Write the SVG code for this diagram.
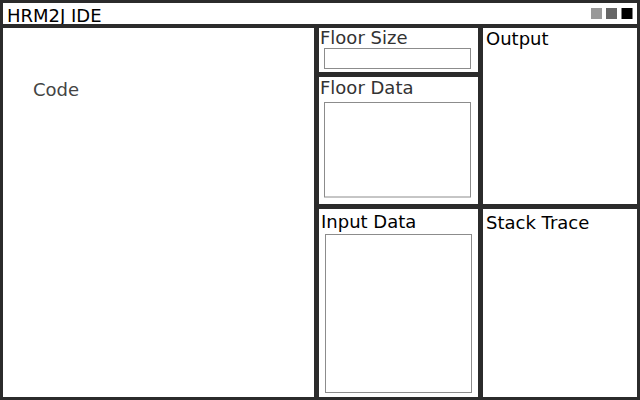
<svg xmlns="http://www.w3.org/2000/svg" width="640" height="400" viewBox="0 0 640 400">
  <style>
    .frame { fill: #ffffff; stroke: #2b2b2b; stroke-width: 3; }
    .sep { stroke: #2b2b2b; fill: none; }
    .field { fill: #ffffff; stroke: #8c8c8c; stroke-width: 1; }
    .t { font-family: "DejaVu Sans", Verdana, sans-serif; font-size: 18px; }
    .dark { fill: #000000; }
    .soft { fill: #333333; }
    .code { fill: #444444; }
  </style>
  <rect width="640" height="400" fill="#ffffff"/>
  <g id="window">
    <rect class="frame" x="1.5" y="1.5" width="637" height="397"/>
  </g>
  <g id="title-bar">
    <text class="t dark" x="7" y="22">HRM2J IDE</text>
    <rect x="591" y="8" width="11" height="11" fill="#999999"/>
    <rect x="606" y="8" width="11" height="11" fill="#666666"/>
    <rect x="621.5" y="8" width="11" height="11" fill="#000000"/>
  </g>
  <g id="separators">
    <line class="sep" x1="0" y1="26" x2="640" y2="26" stroke-width="4"/>
    <line class="sep" x1="316.5" y1="26" x2="316.5" y2="400" stroke-width="5"/>
    <line class="sep" x1="480.5" y1="26" x2="480.5" y2="400" stroke-width="5"/>
    <line class="sep" x1="316.5" y1="74.5" x2="480.5" y2="74.5" stroke-width="5"/>
    <line class="sep" x1="316.5" y1="206.5" x2="640" y2="206.5" stroke-width="5"/>
  </g>
  <g id="code-panel">
    <text class="t code" x="33" y="96">Code</text>
  </g>
  <g id="floor-size-panel">
    <text class="t soft" x="320" y="44">Floor Size</text>
    <rect class="field" x="324.5" y="48.5" width="146" height="20"/>
  </g>
  <g id="floor-data-panel">
    <text class="t soft" x="320" y="94">Floor Data</text>
    <rect class="field" x="324.5" y="102.5" width="146" height="94.5"/>
  </g>
  <g id="input-data-panel">
    <text class="t dark" x="321" y="228">Input Data</text>
    <rect class="field" x="325.5" y="234.5" width="146" height="158"/>
  </g>
  <g id="output-panel">
    <text class="t dark" x="486" y="45">Output</text>
  </g>
  <g id="stack-trace-panel">
    <text class="t dark" x="486" y="229">Stack Trace</text>
  </g>
</svg>
